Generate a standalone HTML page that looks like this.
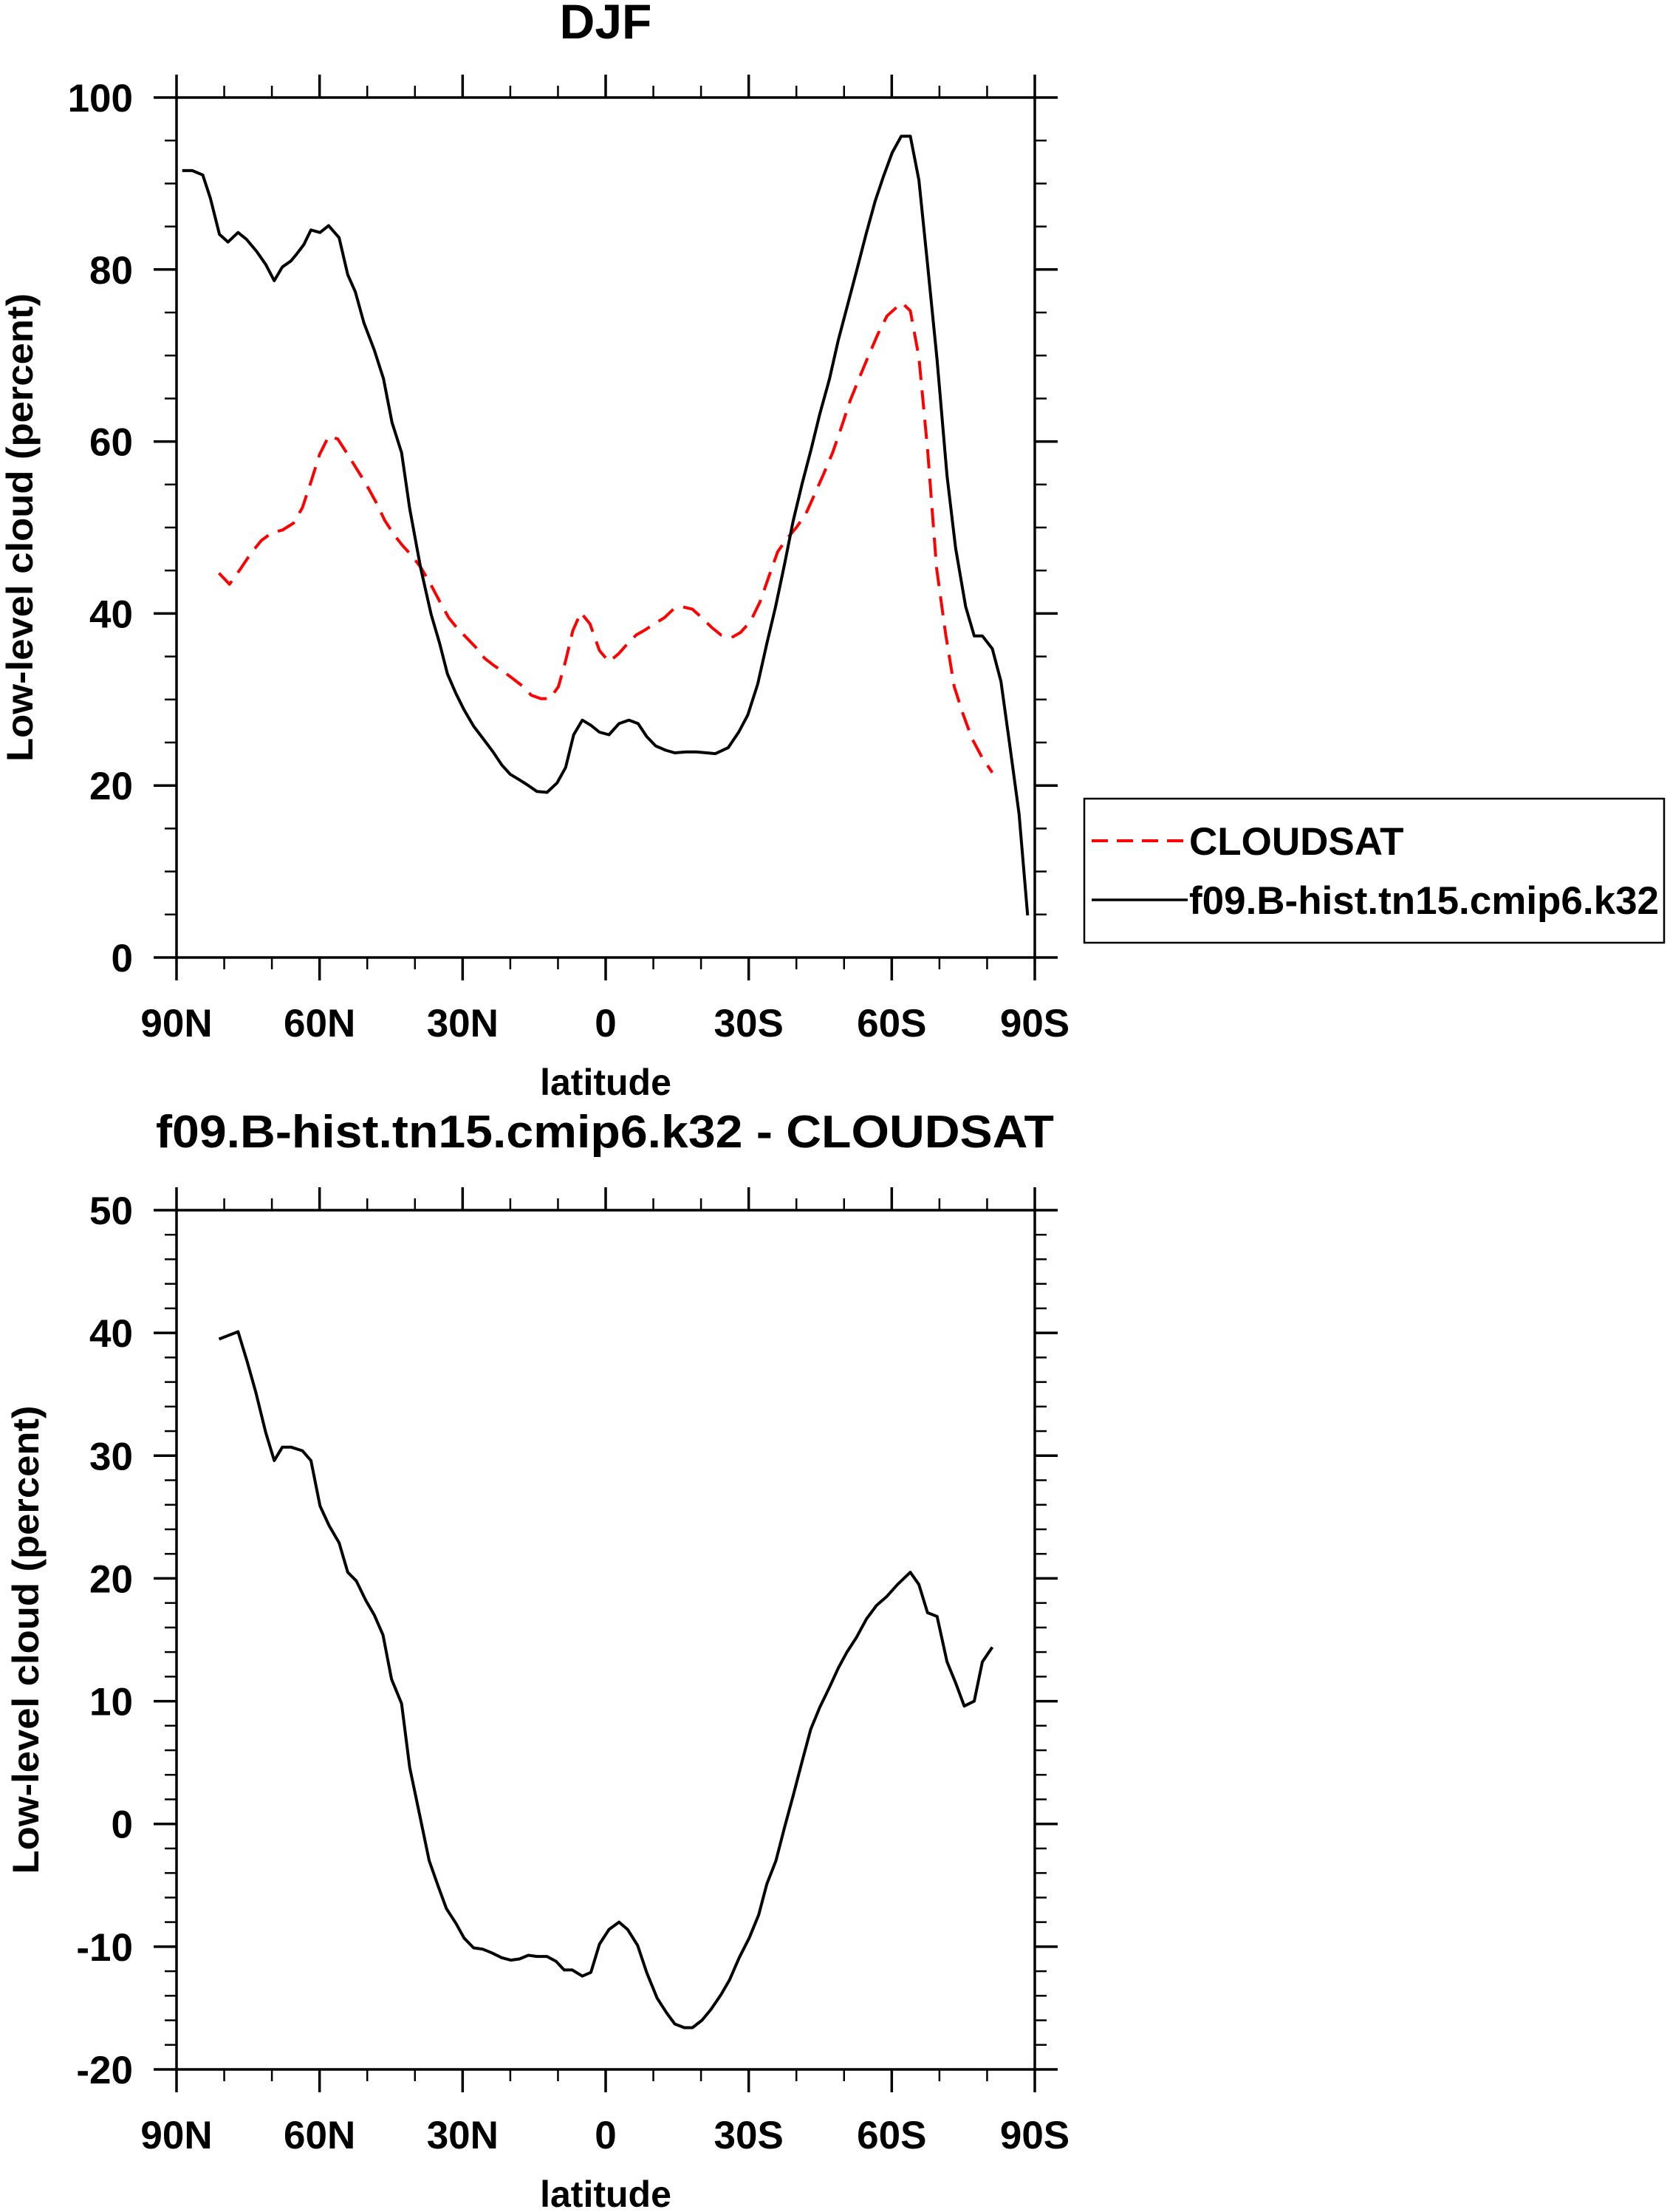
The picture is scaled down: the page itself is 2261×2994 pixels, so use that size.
<!DOCTYPE html>
<html><head><meta charset="utf-8"><style>
html,body{margin:0;padding:0;background:#fff;}
svg{display:block;}
text{font-family:"Liberation Sans",sans-serif;font-weight:bold;fill:#000;}
</style></head>
<body>
<svg id="chart" xmlns="http://www.w3.org/2000/svg" width="2261" height="2994" viewBox="0 0 2261 2994">
<rect x="0" y="0" width="2261" height="2994" fill="#fff"/>
<text x="820" y="52" font-size="66" text-anchor="middle">DJF</text>
<text x="819" y="1553" font-size="62" text-anchor="middle" textLength="1216" lengthAdjust="spacingAndGlyphs">f09.B-hist.tn15.cmip6.k32 - CLOUDSAT</text>
<g id="top"></g>
<g id="bot"></g>
<g>
<rect x="1468" y="1081" width="785" height="195" fill="none" stroke="#000" stroke-width="2.5"/>
<line x1="1478" y1="1138" x2="1608" y2="1138" stroke="#f00" stroke-width="4" stroke-dasharray="22,12"/>
<text x="1610" y="1157" font-size="53">CLOUDSAT</text>
<line x1="1478" y1="1218" x2="1608" y2="1218" stroke="#000" stroke-width="3.5"/>
<text x="1610" y="1237" font-size="53" textLength="636" lengthAdjust="spacingAndGlyphs">f09.B-hist.tn15.cmip6.k32</text>
</g>
</svg>
<script>
// ---- data ----
const xTickLabels = ["90N","60N","30N","0","30S","60S","90S"];
const xTickValues = [90,60,30,0,-30,-60,-90];
const topYTicks = [0,20,40,60,80,100];
const botYTicks = [-20,-10,0,10,20,30,40,50];

const modelLat = [88.8,86.7,84.5,82.9,81,79.2,77.1,75.3,73.2,71.3,69.5,67.8,66,64.8,63.3,61.8,59.9,58.1,55.9,54.1,52.5,50.7,48.5,46.6,44.8,42.8,41.1,38.8,36.6,34.8,33.2,31.4,29.7,27.7,25.5,23.6,21.8,20,18.2,16.5,14.4,12.3,10.2,8.4,6.7,4.9,3.1,1.3,-0.7,-2.8,-4.9,-6.8,-8.6,-10.5,-12.6,-14.5,-16.8,-19,-21.2,-23,-25.7,-27.9,-29.8,-31.9,-33.8,-35.6,-37.5,-39.3,-41.2,-43.1,-44.9,-46.9,-48.8,-50.6,-52.6,-54.6,-56.5,-58.3,-60.1,-62,-63.9,-65.7,-67.5,-69.5,-71.6,-73.4,-75.5,-77.3,-79,-81.1,-82.9,-84.7,-86.7,-88.5];
const modelVal = [91.5,91.5,91.0,88.3,84.1,83.2,84.3,83.5,82.1,80.6,78.7,80.3,81,81.8,82.9,84.6,84.3,85.1,83.7,79.4,77.4,73.8,70.6,67.3,62.2,58.7,52.2,45.3,39.9,36.5,33.0,30.7,28.8,26.9,25.3,23.9,22.4,21.3,20.7,20.1,19.3,19.2,20.3,22.1,25.9,27.6,27.0,26.2,25.9,27.2,27.6,27.2,25.7,24.6,24.1,23.8,23.9,23.9,23.8,23.7,24.4,26.2,28.2,31.8,36.5,40.7,45.7,50.7,55.1,59.1,63.2,67.2,71.8,75.6,79.8,84.1,87.9,90.9,93.6,95.5,95.5,90.4,80.6,69.5,56,47.6,40.8,37.4,37.4,35.9,32.1,24.9,16.7,4.9];

const obsLat = [81.1,78.9,76.7,74.4,72.2,70,67.8,65.5,63.6,61.8,60,58.1,56.2,54.1,52.2,50.3,48.2,46.3,44.3,42.6,40.6,38.7,36.6,34.8,32.9,31,29.2,27.3,25.4,23.3,21.3,19.4,17.3,15.6,13.6,11.7,9.9,8.4,6.9,5.2,3.3,1.3,-0.7,-2.7,-4.6,-6.4,-8.3,-10.2,-12.3,-14.2,-16,-18.2,-20.2,-22.2,-24.2,-26.4,-28.3,-30.4,-32.4,-34.3,-36.1,-38,-40,-42,-43.7,-45.7,-47.6,-49.4,-51.3,-53.2,-55,-57.1,-59,-61,-62.2,-63.9,-65.7,-67.5,-69.4,-71.3,-73.1,-74.9,-76.8,-79,-81.1];
const obsVal = [44.7,43.4,45.1,47,48.5,49.4,49.7,50.5,52.3,55.3,58.5,60.6,60.3,58.5,56.8,55.1,53,50.8,49.1,47.9,46.7,45.3,43.3,41.4,39.5,38.2,37.2,36.1,34.8,33.9,33.2,32.4,31.5,30.5,30.1,30.1,31.5,34.5,38,40.1,38.8,35.7,34.4,35.3,36.5,37.5,38.1,38.8,39.5,40.5,40.8,40.5,39.5,38.4,37.5,37.2,37.8,39.1,41.4,44.4,47.2,48.7,50,51.6,53.7,56.2,58.7,61.6,64.8,67.4,69.8,72.5,74.6,75.6,76.1,75.2,69.8,59.1,45.3,37.6,31.5,28.4,25.5,23.2,21.5];

const diffLat = [81.1,77.1,75.2,73.4,71.3,69.5,67.8,66,63.6,61.8,59.9,58,55.9,54.1,52.3,50.3,48.5,46.7,44.9,42.8,41.1,39.1,37,35.1,33.4,31.4,29.7,27.7,25.8,23.9,21.8,19.9,18.1,16.2,14.4,12.3,10.4,8.7,7,4.9,3.1,1.3,-0.7,-2.8,-4.6,-6.7,-8.6,-10.8,-12.8,-14.5,-16.5,-18.2,-20.2,-22.1,-24.2,-26,-28,-30.1,-32.1,-33.8,-35.7,-37.5,-39.4,-41.2,-43,-44.9,-46.9,-48.8,-50.6,-52.6,-54.7,-56.8,-58.9,-61.2,-63.9,-65.7,-67.5,-69.5,-71.6,-73.4,-75.2,-77.3,-79,-81.1];
const diffVal = [39.5,40.1,37.7,35.2,31.9,29.6,30.7,30.7,30.4,29.6,25.9,24.3,22.9,20.5,19.8,18.2,17.0,15.4,11.8,9.8,4.6,0.9,-3,-5.1,-6.9,-8.1,-9.3,-10.1,-10.2,-10.5,-10.9,-11.1,-11,-10.7,-10.8,-10.8,-11.2,-11.9,-11.9,-12.4,-12.1,-9.8,-8.6,-8,-8.6,-9.9,-12.1,-14.2,-15.4,-16.3,-16.6,-16.6,-16,-15.1,-13.9,-12.7,-10.9,-9.3,-7.4,-4.9,-3,-0.3,2.4,5.1,7.7,9.5,11.1,12.7,14,15.2,16.7,17.8,18.5,19.5,20.5,19.5,17.2,16.9,13.2,11.5,9.6,10,13.2,14.4];

const NS = "http://www.w3.org/2000/svg";
function mk(parent, tag, attrs){const e=document.createElementNS(NS,tag);for(const k in attrs)e.setAttribute(k,attrs[k]);parent.appendChild(e);return e;}

function drawPanel(g, cfg){
  const L=239,R=1401,T=cfg.top,B=cfg.bottom;
  const xs = lat => L + (90-lat)/180*(R-L);
  const ys = v => B - (v-cfg.ymin)/(cfg.ymax-cfg.ymin)*(B-T);
  // minor y ticks
  for(let v=cfg.ymin; v<=cfg.ymax+1e-9; v+=cfg.minor){
    const y=ys(v);
    const t1=mk(g,"line",{x1:L-16,y1:y,x2:L,y2:y,stroke:"#000","stroke-width":2.5});
    
    
    const t2=mk(g,"line",{x1:R,y1:y,x2:R+16,y2:y,stroke:"#000","stroke-width":2.5});
    
    
  }
  // minor x ticks
  for(let lat=90; lat>=-90; lat-=10){
    const x=xs(lat);
    const t1=mk(g,"line",{x1:x,y1:T-16,x2:x,y2:T,stroke:"#000","stroke-width":2.5});
    
    
    const t2=mk(g,"line",{x1:x,y1:B,x2:x,y2:B+16,stroke:"#000","stroke-width":2.5});
    
    
  }
  // major y ticks + labels
  cfg.yticks.forEach(v=>{
    const y=ys(v);
    const t=mk(g,"line",{x1:L-31,y1:y,x2:R+31,y2:y,stroke:"#000","stroke-width":0});
    const a=mk(g,"line",{x1:L-31,y1:y,x2:L,y2:y,stroke:"#000","stroke-width":3.5});
    
    
    const b=mk(g,"line",{x1:R,y1:y,x2:R+31,y2:y,stroke:"#000","stroke-width":3.5});
    
    
    const lb=mk(g,"text",{x:180,y:y+19,"font-size":53,"text-anchor":"end"});
    lb.textContent=String(v);
    
    
  });
  // major x ticks + labels
  xTickValues.forEach((lat,i)=>{
    const x=xs(lat);
    const a=mk(g,"line",{x1:x,y1:T-31,x2:x,y2:T,stroke:"#000","stroke-width":3.5});
    
    
    const b=mk(g,"line",{x1:x,y1:B,x2:x,y2:B+31,stroke:"#000","stroke-width":3.5});
    
    
    const lb=mk(g,"text",{x:x,y:B+107,"font-size":53,"text-anchor":"middle"});
    lb.textContent=xTickLabels[i];
    
    
  });
  // frame
  const fr=mk(g,"rect",{x:L,y:T,width:R-L,height:B-T,fill:"none",stroke:"#000","stroke-width":3.5});
  
  
  // axis titles
  const xl=mk(g,"text",{x:(L+R)/2,y:B+186,"font-size":50,"text-anchor":"middle"});
  xl.textContent="latitude";
  
  
  const cy=(T+B)/2, cx=cfg.ylabX;
  const yl=mk(g,"text",{x:cx,y:cy,"font-size":50,"text-anchor":"middle",transform:`rotate(-90 ${cx} ${cy})`,textLength:634,lengthAdjust:"spacingAndGlyphs"});
  yl.textContent="Low-level cloud (percent)";
  
  
  // series
  cfg.series.forEach(s=>{
    const pts=s.lat.map((la,i)=>xs(la).toFixed(1)+","+ys(s.val[i]).toFixed(1)).join(" ");
    const pl=mk(g,"polyline",{points:pts,fill:"none",stroke:s.color,"stroke-width":4,"stroke-linejoin":"round"});
    if(s.dash) pl.setAttribute("stroke-dasharray",s.dash);
    
    
  });
}

drawPanel(document.getElementById("top"),{top:132,bottom:1296,ymin:0,ymax:100,minor:5,yticks:topYTicks,ylabX:44,
  series:[{lat:obsLat,val:obsVal,color:"#f00",dash:"26,14",name:"cloudsat-line"},{lat:modelLat,val:modelVal,color:"#000",name:"model-line"}]});
drawPanel(document.getElementById("bot"),{top:1638,bottom:2801,ymin:-20,ymax:50,minor:2,yticks:botYTicks,ylabX:52,
  series:[{lat:diffLat,val:diffVal,color:"#000",name:"difference-line"}]});
</script>
</body></html>
